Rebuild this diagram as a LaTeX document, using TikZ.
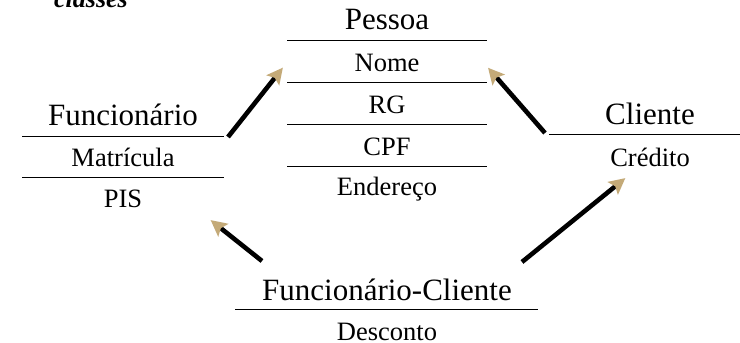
\documentclass[tikz,border=0pt]{standalone}
\usepackage{fontspec}
\setmainfont{Liberation Serif}
\usetikzlibrary{arrows.meta}
\definecolor{tipc}{RGB}{196,170,120}
\tikzset{
  ttl/.style={anchor=base, inner sep=0pt, font=\fontsize{31}{33}\selectfont},
  attr/.style={anchor=base, inner sep=0pt, font=\fontsize{26.5}{29}\selectfont},
  sep/.style={line width=1pt, black},
  inh/.style={line width=4.6pt, black, -{Stealth[length=16pt,width=16pt,inset=3pt,color=tipc]}, shorten >=-3pt}
}
\begin{document}
\begin{tikzpicture}[x=1pt,y=-1pt]
\useasboundingbox (0,0) rectangle (740,343);
\clip (0,0) rectangle (740,343);
\fill[white] (0,0) rectangle (740,343);
% title fragment
\node[anchor=base, inner sep=0pt, font=\fontsize{26}{28}\selectfont\bfseries\itshape] (cls) at (91,7) {classes};
% Pessoa
\node[ttl] (pes) at (387,29) {Pessoa};
\node[attr] (nome) at (387,71) {Nome};
\node[attr] (rg) at (387,113) {RG};
\node[attr] (cpf) at (387,155) {CPF};
\node[attr] (end) at (387,195) {Endereço};
\coordinate (p1l) at (287,40); \coordinate (p1r) at (487,40);
\coordinate (p2l) at (287,82); \coordinate (p2r) at (487,82);
\coordinate (p3l) at (287,124); \coordinate (p3r) at (487,124);
\coordinate (p4l) at (287,166); \coordinate (p4r) at (487,166);
\draw[sep] (p1l) -- (p1r);
\draw[sep] (p2l) -- (p2r);
\draw[sep] (p3l) -- (p3r);
\draw[sep] (p4l) -- (p4r);
% Funcionario
\node[ttl] (fun) at (123,125) {Funcionário};
\node[attr] (mat) at (123,166) {Matrícula};
\node[attr] (pis) at (123,207) {PIS};
\coordinate (f1l) at (22,136); \coordinate (f1r) at (224,136);
\coordinate (f2l) at (22,177); \coordinate (f2r) at (224,177);
\draw[sep] (f1l) -- (f1r);
\draw[sep] (f2l) -- (f2r);
% Cliente
\node[ttl] (cli) at (650,124) {Cliente};
\node[attr] (cre) at (650,166) {Crédito};
\coordinate (c1l) at (549,134); \coordinate (c1r) at (740,134);
\draw[sep] (c1l) -- (c1r);
% Funcionario-Cliente
\node[ttl] (fc) at (387,300) {Funcionário-Cliente};
\node[attr] (des) at (387,340) {Desconto};
\coordinate (fcl) at (235,309); \coordinate (fcr) at (538,309);
\draw[sep] (fcl) -- (fcr);
% inheritance arrows
\coordinate (a1s) at (228,137); \coordinate (a1e) at (281,70);
\coordinate (a2s) at (545,133); \coordinate (a2e) at (490,70);
\coordinate (a3s) at (262,261); \coordinate (a3e) at (213,222);
\coordinate (a4s) at (522,262); \coordinate (a4e) at (623,180);
\draw[inh] (a1s) -- (a1e);
\draw[inh] (a2s) -- (a2e);
\draw[inh] (a3s) -- (a3e);
\draw[inh] (a4s) -- (a4e);
\end{tikzpicture}
\end{document}
